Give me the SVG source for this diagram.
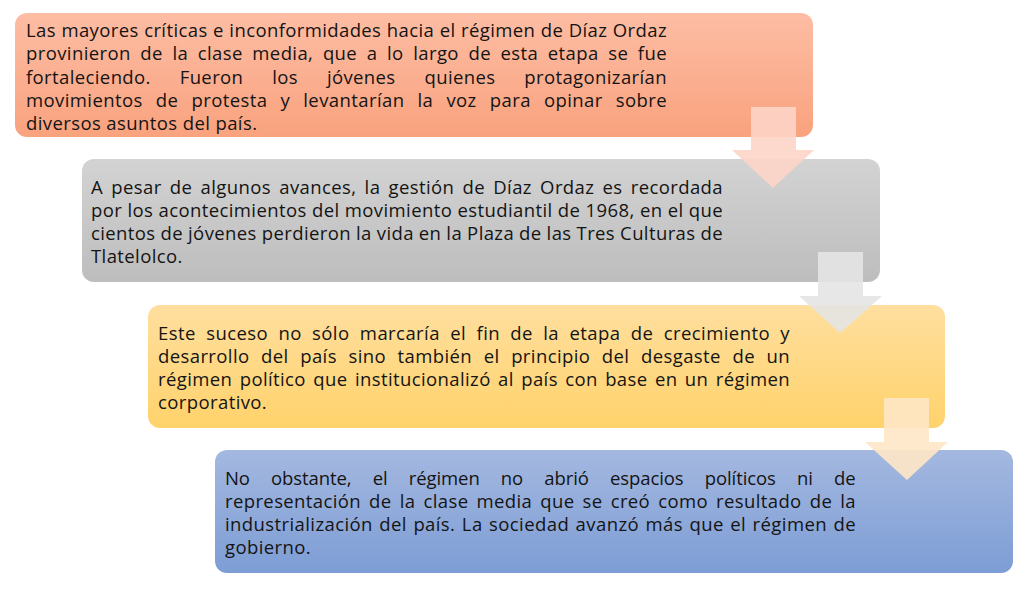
<svg xmlns="http://www.w3.org/2000/svg" width="1027" height="590" viewBox="0 0 1027 590">
<defs>
<linearGradient id="g1" x1="0" y1="0" x2="0" y2="1"><stop offset="0" stop-color="#FDBDA4"/><stop offset="1" stop-color="#F9A27E"/></linearGradient>
<linearGradient id="g2" x1="0" y1="0" x2="0" y2="1"><stop offset="0" stop-color="#D3D3D3"/><stop offset="1" stop-color="#BDBDBD"/></linearGradient>
<linearGradient id="g3" x1="0" y1="0" x2="0" y2="1"><stop offset="0" stop-color="#FFDF9F"/><stop offset="1" stop-color="#FFD26B"/></linearGradient>
<linearGradient id="g4" x1="0" y1="0" x2="0" y2="1"><stop offset="0" stop-color="#A4B8E0"/><stop offset="1" stop-color="#7D9DD5"/></linearGradient>
<style>
text{font-family:"Open Sans","Noto Sans",sans-serif;font-size:18.5px;letter-spacing:0.4px;fill:#141414;}
.box{stroke:none;}
.arrow{opacity:0.9;}
</style>
</defs>
<rect width="1027" height="590" fill="#FFFFFF"/>
<g id="node1">
<rect class="box" x="15" y="13" width="798" height="124" rx="12" fill="url(#g1)"/>
<text x="26" y="37" style="word-spacing:0.3px" textLength="641" lengthAdjust="spacing">Las mayores críticas e inconformidades hacia el régimen de Díaz Ordaz</text>
<text x="26" y="60.3" style="word-spacing:4.4px" textLength="641" lengthAdjust="spacing">provinieron de la clase media, que a lo largo de esta etapa se fue</text>
<text x="26" y="83.6" style="word-spacing:23.7px" textLength="641" lengthAdjust="spacing">fortaleciendo. Fueron los jóvenes quienes protagonizarían</text>
<text x="26" y="107" style="word-spacing:7.9px" textLength="641" lengthAdjust="spacing">movimientos de protesta y levantarían la voz para opinar sobre</text>
<text x="26" y="130.2">diversos asuntos del país.</text>
</g>
<g id="node2">
<rect class="box" x="82" y="159" width="798" height="123" rx="12" fill="url(#g2)"/>
<text x="91" y="194" style="word-spacing:3px" textLength="632" lengthAdjust="spacing">A pesar de algunos avances, la gestión de Díaz Ordaz es recordada</text>
<text x="91" y="217" textLength="632" lengthAdjust="spacing">por los acontecimientos del movimiento estudiantil de 1968, en el que</text>
<text x="91" y="240" style="word-spacing:-0.2px" textLength="632" lengthAdjust="spacing">cientos de jóvenes perdieron la vida en la Plaza de las Tres Culturas de</text>
<text x="91" y="263">Tlatelolco.</text>
</g>
<g id="node3">
<rect class="box" x="148" y="305" width="797" height="123" rx="12" fill="url(#g3)"/>
<text x="158" y="340" style="word-spacing:5.1px" textLength="632" lengthAdjust="spacing">Este suceso no sólo marcaría el fin de la etapa de crecimiento y</text>
<text x="158" y="363" style="word-spacing:6.4px" textLength="632" lengthAdjust="spacing">desarrollo del país sino también el principio del desgaste de un</text>
<text x="158" y="386" style="word-spacing:2.2px" textLength="632" lengthAdjust="spacing">régimen político que institucionalizó al país con base en un régimen</text>
<text x="158" y="409">corporativo.</text>
</g>
<g id="node4">
<rect class="box" x="215" y="450" width="798" height="123" rx="12" fill="url(#g4)"/>
<text x="225" y="485" style="word-spacing:16.5px" textLength="631" lengthAdjust="spacing">No obstante, el régimen no abrió espacios políticos ni de</text>
<text x="225" y="508" style="word-spacing:2.9px" textLength="631" lengthAdjust="spacing">representación de la clase media que se creó como resultado de la</text>
<text x="225" y="531" style="word-spacing:1.3px" textLength="631" lengthAdjust="spacing">industrialización del país. La sociedad avanzó más que el régimen de</text>
<text x="225" y="554">gobierno.</text>
</g>
<g id="connectors">
<polygon class="arrow" fill="#FDD4C7" points="751,107 796,107 796,150 814,150 773,188 732,150 751,150"/>
<polygon class="arrow" fill="#E4E4E4" points="818,252 863,252 863,296 882,296 840,333 799,296 818,296"/>
<polygon class="arrow" fill="#FFE7C7" points="884,398 929,398 929,442 948,442 907,480 865,442 884,442"/>
</g>
</svg>
